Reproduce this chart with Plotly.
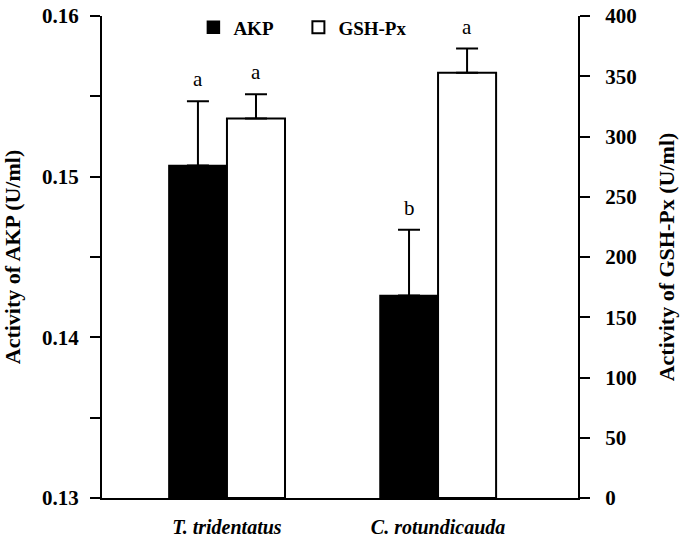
import plotly.graph_objects as go

categories = ["T. tridentatus", "C. rotundicauda"]
akp_mean = [0.1507, 0.1426]
akp_err = [0.0040, 0.0041]
gsh_mean = [315, 353]
gsh_err = [20, 20]
akp_letters = ["a", "b"]
gsh_letters = ["a", "a"]

left_ticks = [0.13, 0.135, 0.14, 0.145, 0.15, 0.155, 0.16]
left_labels = ["0.13", "", "0.14", "", "0.15", "", "0.16"]
right_ticks = [0, 50, 100, 150, 200, 250, 300, 350, 400]

FONT = "Liberation Serif, Times New Roman, serif"
BW = 0.275

fig = go.Figure()
fig.add_trace(go.Bar(
    x=categories, y=akp_mean, name="AKP", yaxis="y", legend="legend",
    width=BW, offset=-BW,
    marker=dict(color="black", line=dict(color="black", width=1.5)),
    error_y=dict(type="data", array=akp_err, arrayminus=[0, 0], symmetric=False,
                 color="black", thickness=2, width=11),
))
fig.add_trace(go.Bar(
    x=categories, y=gsh_mean, name="GSH-Px", yaxis="y2", legend="legend2",
    width=BW, offset=0,
    marker=dict(color="white", line=dict(color="black", width=2)),
    error_y=dict(type="data", array=gsh_err, arrayminus=[0, 0], symmetric=False,
                 color="black", thickness=2, width=11),
))

annotations = []
for i in range(len(categories)):
    annotations.append(dict(x=i - BW / 2, y=akp_mean[i] + akp_err[i], xref="x", yref="y",
                            text=akp_letters[i], showarrow=False, yshift=22,
                            font=dict(family=FONT, size=21, color="black")))
    annotations.append(dict(x=i + BW / 2, y=gsh_mean[i] + gsh_err[i], xref="x", yref="y2",
                            text=gsh_letters[i], showarrow=False, yshift=22,
                            font=dict(family=FONT, size=21, color="black")))

legend_style = dict(orientation="h", yanchor="top",
                    font=dict(family=FONT, size=19, color="black", weight="bold"),
                    bgcolor="rgba(0,0,0,0)")

fig.update_layout(
    width=685, height=538,
    margin=dict(l=102, r=107, t=16, b=40, autoexpand=False),
    paper_bgcolor="white", plot_bgcolor="white",
    barmode="overlay",
    font=dict(family=FONT, color="black"),
    showlegend=True,
    legend=dict(x=0.192, y=1.0156, xanchor="left", **legend_style),
    legend2=dict(x=0.4126, y=1.0156, xanchor="left", **legend_style),
    xaxis=dict(type="category", range=[-0.592, 1.663], automargin=False,
               tickvals=categories,
               ticktext=["<b><i>" + c + "</i></b>" for c in categories],
               tickfont=dict(family=FONT, size=20, color="black"),
               showline=True, linecolor="black", linewidth=2,
               ticks="", showgrid=False, zeroline=False, ticklabelstandoff=10),
    yaxis=dict(range=[0.13, 0.16], tickvals=left_ticks, ticktext=left_labels,
               automargin=False, ticklabelstandoff=7, ticklabeloverflow="allow",
               tickfont=dict(family=FONT, size=21, color="black", weight="bold"),
               showline=True, linecolor="black", linewidth=2,
               ticks="outside", ticklen=10, tickwidth=2, tickcolor="black",
               showgrid=False, zeroline=False,
               title=dict(text="Activity of AKP (U/ml)", standoff=18,
                          font=dict(family=FONT, size=22, color="black", weight="bold"))),
    yaxis2=dict(range=[0, 400], tickvals=right_ticks, overlaying="y", side="right",
                automargin=False, ticklabelstandoff=11, ticklabeloverflow="allow",
                tickfont=dict(family=FONT, size=21, color="black", weight="bold"),
                showline=True, linecolor="black", linewidth=2,
                ticks="outside", ticklen=10, tickwidth=2, tickcolor="black",
                showgrid=False, zeroline=False,
                title=dict(text="Activity of GSH-Px (U/ml)", standoff=23,
                           font=dict(family=FONT, size=22, color="black", weight="bold"))),
    annotations=annotations,
)

fig.write_html("out.html",
               config={"displayModeBar": False},
               post_script="document.body.style.margin='0';document.body.style.overflow='hidden';")
